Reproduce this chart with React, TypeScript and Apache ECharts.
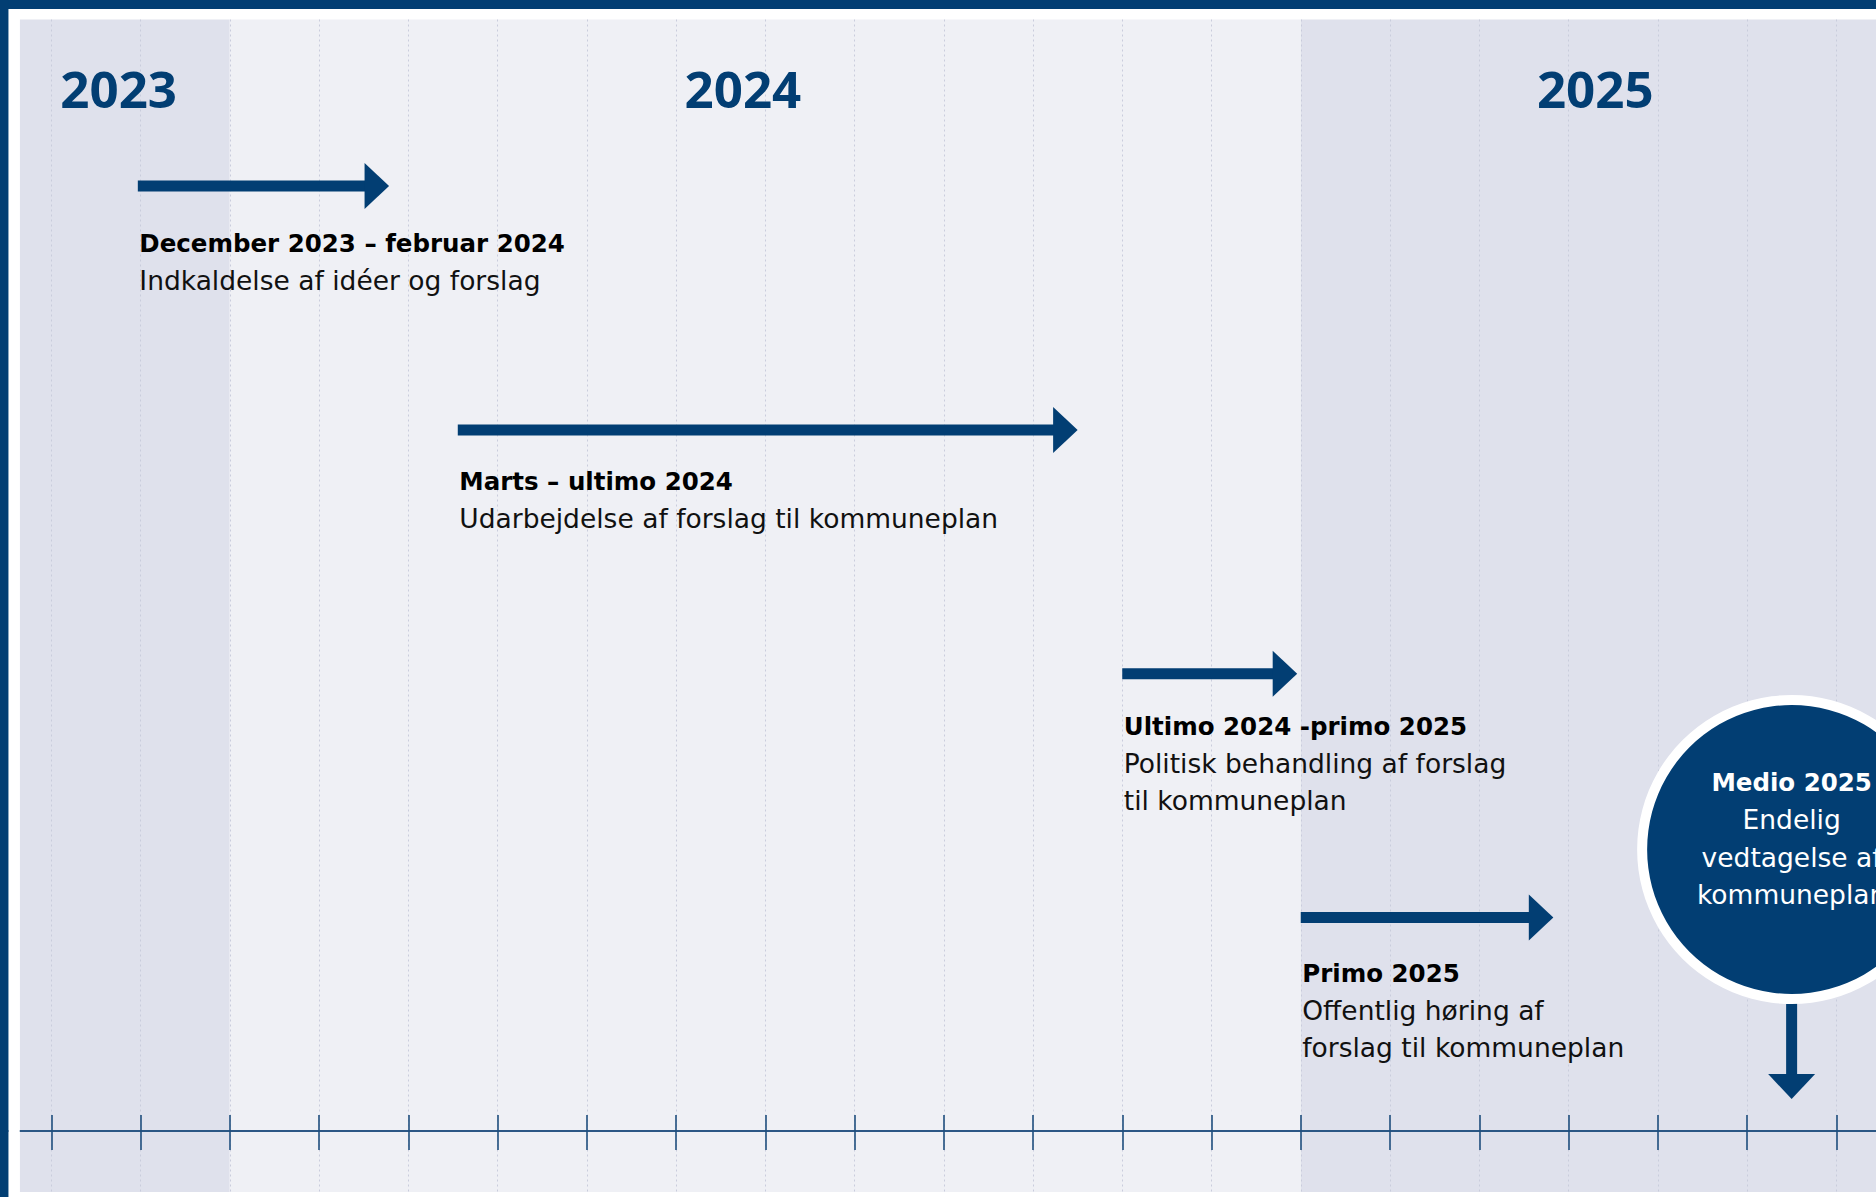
import React, { useEffect, useRef } from "react";
import * as echarts from "echarts";

// ---- data (months counted from 1 January 2024 = 0) ----
const bandStart = [-2.353, 0, 12];
const bandEnd = [0, 12, 19];

const yearLabels = ["2023", "2024", "2025"];
const yearLabelMonth = [-1.245, 5.75, 15.3];
const yearLabelLevel = 1042.6;

const phaseStart = [-1.03, 2.555, 10, 12];
const phaseEnd = [1.785, 9.5, 11.96, 14.83];
const phaseLevel = [945, 701, 457.3, 213.5];
const phaseTitles = [
  "December 2023 – februar 2024",
  "Marts – ultimo 2024",
  "Ultimo 2024 -primo 2025",
  "Primo 2025",
];
const phaseDescriptions = [
  "Indkaldelse af idéer og forslag",
  "Udarbejdelse af forslag til kommuneplan",
  "Politisk behandling af forslag\ntil kommuneplan",
  "Offentlig høring af\nforslag til kommuneplan",
];

const milestoneMonth = 17.5;
const milestoneLevel = 281.5;
const milestoneArrowTip = 32;
const milestoneTitle = "Medio 2025";
const milestoneText = "Endelig\nvedtagelse af\nkommuneplan";

// ---- layout & styles ----
const SHIFT = 37.75; // chart canvas starts this far left of the page
const NAVY = "#023e73";
const AXIS_COLOR = "#1f4e7e";
const BAND_COLORS = ["#dfe1ec", "#eff0f5", "#dfe1ec"];
const FONT = "DejaVu Sans";
const HEAD_LEN = 24.5;
const HEAD_HALF = 23;
const SHAFT_HALF = 5.5;
const TITLE_OFFSET = [57.8, 51.5, 52.8, 55.5];
const LINE_H = 37;

export default function App() {
  const ref = useRef<HTMLDivElement>(null);

  useEffect(() => {
    if (!ref.current) return;
    const chart = echarts.init(ref.current, null, { renderer: "svg" });

    const axisCommon = {
      type: "value",
      min: -3,
      max: 19,
      interval: 1,
      z: 3,
      position: "bottom",
      axisLabel: { show: false },
    };

    const option: any = {
      animation: false,
      backgroundColor: "#ffffff",
      grid: { left: 0, top: 19.5, width: 1963.5, height: 1172.5, containLabel: false },
      xAxis: [
        {
          ...axisCommon,
          axisLine: { show: true, onZero: true, lineStyle: { color: AXIS_COLOR, width: 1.6 } },
          axisTick: { show: true, inside: false, length: 19, lineStyle: { color: AXIS_COLOR, width: 1.6 } },
          splitLine: { show: true, lineStyle: { color: "#c9ccdc", type: [2, 3], width: 1 } },
        },
        {
          ...axisCommon,
          axisLine: { show: true, onZero: true, onZeroAxisIndex: 0, lineStyle: { color: AXIS_COLOR, width: 1.6 } },
          axisTick: { show: true, inside: true, length: 16, lineStyle: { color: AXIS_COLOR, width: 1.6 } },
          splitLine: { show: false },
        },
      ],
      yAxis: { type: "value", min: -61, max: 1111.5, show: false },
      graphic: [
        { type: "rect", z: 100, shape: { x: SHIFT + 8.7, y: 0, width: 11.3, height: 1197 }, style: { fill: "#ffffff" } },
        { type: "rect", z: 100, shape: { x: 0, y: 1192, width: 2100, height: 10 }, style: { fill: "#ffffff" } },
        { type: "rect", z: 101, shape: { x: 0, y: 0, width: 2100, height: 9 }, style: { fill: NAVY } },
        { type: "rect", z: 101, shape: { x: 0, y: 0, width: SHIFT + 8.7, height: 1197 }, style: { fill: NAVY } },
      ],
      series: [
        {
          type: "custom",
          name: "years",
          z: 4,
          silent: true,
          data: yearLabels.map((t, i) => [yearLabelMonth[i], yearLabelLevel]),
          markArea: {
            silent: true,
            z: 1,
            data: bandStart.map((s, i) => [
              { xAxis: s, itemStyle: { color: BAND_COLORS[i] } },
              { xAxis: bandEnd[i] },
            ]),
          },
          renderItem: (params: any, api: any) => {
            const p = api.coord([api.value(0), api.value(1)]);
            return {
              type: "text",
              x: p[0],
              y: p[1],
              style: {
                text: yearLabels[params.dataIndex],
                fill: NAVY,
                fontFamily: "Open Sans",
                fontWeight: "bold",
                fontSize: 51,
                align: "center",
                verticalAlign: "middle",
              },
            };
          },
        },
        {
          type: "custom",
          name: "phases",
          z: 5,
          silent: true,
          data: phaseStart.map((s, i) => [s, phaseEnd[i], phaseLevel[i]]),
          encode: { x: [0, 1], y: 2 },
          renderItem: (params: any, api: any) => {
            const i = params.dataIndex;
            const p0 = api.coord([api.value(0), api.value(2)]);
            const p1 = api.coord([api.value(1), api.value(2)]);
            const y = p0[1];
            const baseX = p1[0] - HEAD_LEN;
            const tOff = TITLE_OFFSET[i];
            return {
              type: "group",
              children: [
                {
                  type: "rect",
                  shape: { x: p0[0], y: y - SHAFT_HALF, width: baseX - p0[0] + 1, height: SHAFT_HALF * 2 },
                  style: { fill: NAVY },
                },
                {
                  type: "polygon",
                  shape: { points: [[baseX, y - HEAD_HALF], [p1[0], y], [baseX, y + HEAD_HALF]] },
                  style: { fill: NAVY },
                },
                {
                  type: "text",
                  x: p0[0] + 1.5,
                  y: y + tOff - LINE_H / 2,
                  style: {
                    text: phaseTitles[i],
                    fill: "#000000",
                    fontFamily: FONT,
                    fontWeight: "bold",
                    fontSize: 24.5,
                    lineHeight: LINE_H,
                    align: "left",
                    verticalAlign: "top",
                  },
                },
                {
                  type: "text",
                  x: p0[0] + 1.5,
                  y: y + tOff + LINE_H - LINE_H / 2,
                  style: {
                    text: phaseDescriptions[i],
                    fill: "#111111",
                    fontFamily: FONT,
                    fontSize: 26.5,
                    lineHeight: LINE_H,
                    align: "left",
                    verticalAlign: "top",
                  },
                },
              ],
            };
          },
        },
        {
          type: "custom",
          name: "milestone",
          z: 6,
          silent: true,
          data: [[milestoneMonth, milestoneLevel, milestoneArrowTip]],
          encode: { x: 0, y: [1, 2] },
          renderItem: (params: any, api: any) => {
            const c = api.coord([api.value(0), api.value(1)]);
            const tip = api.coord([api.value(0), api.value(2)]);
            const outerR = 154.5;
            const innerR = 144.5;
            const shaftTop = c[1] + outerR - 2;
            const headTop = tip[1] - 25;
            return {
              type: "group",
              children: [
                {
                  type: "rect",
                  shape: { x: c[0] - 5.5, y: shaftTop, width: 11, height: headTop - shaftTop + 1 },
                  style: { fill: NAVY },
                },
                {
                  type: "polygon",
                  shape: { points: [[c[0] - 23.5, headTop], [c[0] + 23.5, headTop], [c[0], tip[1]]] },
                  style: { fill: NAVY },
                },
                { type: "circle", shape: { cx: c[0], cy: c[1], r: outerR }, style: { fill: "#ffffff" } },
                { type: "circle", shape: { cx: c[0], cy: c[1], r: innerR }, style: { fill: NAVY } },
                {
                  type: "text",
                  x: c[0],
                  y: c[1] - 67,
                  style: {
                    text: milestoneTitle,
                    fill: "#ffffff",
                    fontFamily: FONT,
                    fontWeight: "bold",
                    fontSize: 24.5,
                    align: "center",
                    verticalAlign: "middle",
                  },
                },
                {
                  type: "text",
                  x: c[0],
                  y: c[1] - 48.5,
                  style: {
                    text: milestoneText,
                    fill: "#ffffff",
                    fontFamily: FONT,
                    fontSize: 26.5,
                    lineHeight: 37.5,
                    align: "center",
                    verticalAlign: "top",
                  },
                },
              ],
            };
          },
        },
      ],
    };

    chart.setOption(option);
    return () => chart.dispose();
  }, []);

  return (
    <div
      style={{
        position: "fixed",
        left: 0,
        top: 0,
        width: 1876,
        height: 1197,
        overflow: "hidden",
        background: "#ffffff",
      }}
    >
      <div
        ref={ref}
        style={{ position: "absolute", left: -SHIFT, top: 0, width: 2040, height: 1197 }}
      />
    </div>
  );
}
